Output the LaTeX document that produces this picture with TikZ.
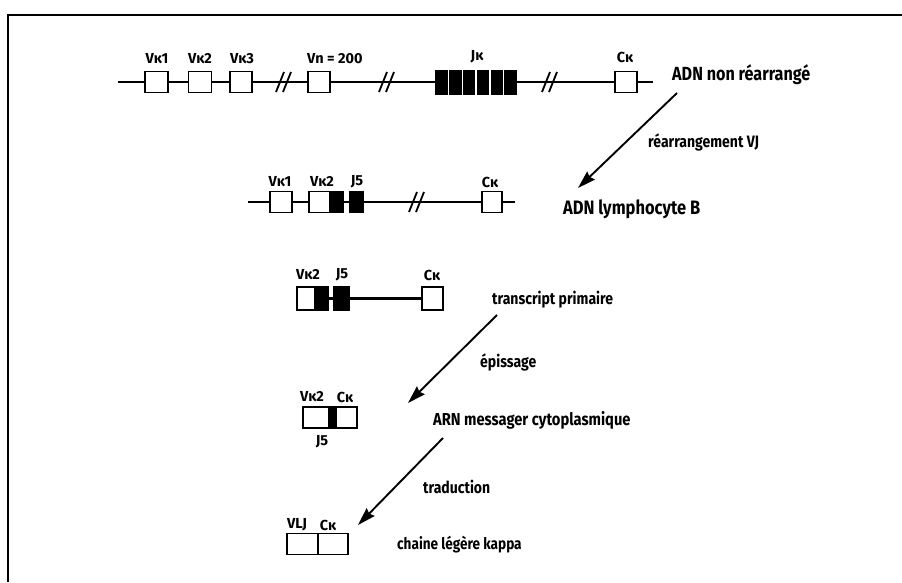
\documentclass[tikz,border=0pt]{standalone}
\usepackage{fontspec}
\setmainfont{Fira Sans}[FakeStretch=0.85]
\newfontfamily\lblfont{Fira Sans}
\usetikzlibrary{arrows.meta}
\tikzset{
  ln/.style={line width=2.2pt},
  wbox/.style={draw, line width=1.9pt, fill=white, minimum height=21pt, inner sep=0pt},
  bbox/.style={draw, line width=1.2pt, fill=black, minimum height=21pt, inner sep=0pt},
  jbox/.style={fill=black, minimum height=25pt, minimum width=12.4pt, inner sep=0pt},
  lab/.style={font=\lblfont\bfseries\fontsize{14.5}{15}\selectfont, inner sep=0pt},
  big/.style={font=\bfseries\fontsize{19}{19}\selectfont, anchor=west, inner sep=0pt},
  small/.style={font=\bfseries\fontsize{16.5}{16}\selectfont, anchor=west, inner sep=0pt},
  arr/.style={line width=1.9pt, -{Stealth[length=18pt,width=11pt,inset=2pt]}},
  brk/.style={line width=1.8pt}
}
\newcommand{\brkmark}[2]{%
  \draw[brk] (#1-10,#2+10) -- (#1-2,#2-10);
  \draw[brk] (#1-3,#2+10) -- (#1+5,#2-10);}
\begin{document}
\begin{tikzpicture}[x=1pt,y=-1pt]
\useasboundingbox (0,0) rectangle (902,582);
% frame
\draw[line width=2.4pt] (8,582) -- (8,15) -- (902,15);

% ---------- Row 1 : ADN non rearrange ----------
\coordinate (r1s) at (118,82);
\coordinate (r1e) at (653,82);
\node[wbox, minimum width=23pt] (a1) at (156.5,82) {};
\node[wbox, minimum width=23pt] (a2) at (200,82) {};
\node[wbox, minimum width=22pt] (a3) at (241,82) {};
\node[wbox, minimum width=22pt] (an) at (319,82) {};
\node[jbox] (j1) at (441.5,82) {};
\node[jbox] (j2) at (455.3,82) {};
\node[jbox] (j3) at (469.1,82) {};
\node[jbox] (j4) at (482.9,82) {};
\node[jbox] (j5) at (496.7,82) {};
\node[jbox] (j6) at (510.5,82) {};
\node[wbox, minimum width=22pt] (ac) at (626,82) {};
\draw[ln] (r1s) -- (a1.west);
\draw[ln] (a1.east) -- (a2.west);
\draw[ln] (a2.east) -- (a3.west);
\draw[ln] (a3.east) -- (an.west);
\draw[ln] (an.east) -- (j1.west);
\draw[ln] (j6.east) -- (ac.west);
\draw[ln] (ac.east) -- (r1e);
\brkmark{286}{82}
\brkmark{389}{82}
\brkmark{552}{82}
\node[lab] (la1) at (157,59) {Vκ1};
\node[lab] (la2) at (200,59) {Vκ2};
\node[lab] (la3) at (242,59) {Vκ3};
\node[lab, anchor=west] (lan) at (307,59) {Vn = 200};
\node[lab] (laj) at (477,57) {Jκ};
\node[lab] (lac) at (625,57) {Cκ};
\node[big] (t1) at (672,75) {ADN non réarrangé};

% arrow 1
\coordinate (p1s) at (677,93);
\coordinate (p1e) at (578,188);
\draw[arr] (p1s) -- (p1e);
\node[small] (t2) at (648,142) {réarrangement VJ};
\node[big, font=\bfseries\fontsize{19.4}{19}\selectfont] (t3) at (563,209) {ADN lymphocyte B};

% ---------- Row 2 : ADN lymphocyte B ----------
\coordinate (r2s) at (248,202);
\coordinate (r2e) at (515,202);
\node[wbox, minimum width=22pt] (b1) at (281,202) {};
\node[wbox, minimum width=21pt] (b2) at (319.5,202) {};
\node[bbox, minimum width=13pt] (b2j) at (336.5,202) {};
\node[bbox, minimum width=14pt] (b5) at (356.5,202) {};
\node[wbox, minimum width=20pt] (bc) at (492,202) {};
\draw[ln] (r2s) -- (b1.west);
\draw[ln] (b1.east) -- (b2.west);
\draw[ln] (b2j.east) -- (b5.west);
\draw[ln] (b5.east) -- (bc.west);
\draw[ln] (bc.east) -- (r2e);
\brkmark{419}{202}
\node[lab] (lb1) at (280,182) {Vκ1};
\node[lab] (lb2) at (322,182) {Vκ2};
\node[lab] (lb5) at (357,182) {J5};
\node[lab] (lbc) at (490,182) {Cκ};

% ---------- Row 3 : transcript primaire ----------
\node[wbox, minimum width=18pt, minimum height=23pt] (c2) at (306,298.5) {};
\node[bbox, minimum width=13pt, minimum height=23pt] (c2j) at (321.5,298.5) {};
\node[bbox, minimum width=15pt, minimum height=23pt] (c5) at (341.5,298.5) {};
\node[wbox, minimum width=21pt, minimum height=23pt] (cc) at (432.5,298.5) {};
\draw[ln] (c2j.east) -- (c5.west);
\draw[ln] (c5.east) -- (cc.west);
\node[lab] (lc2) at (308,275) {Vκ2};
\node[lab] (lc5) at (342,275) {J5};
\node[lab] (lcc) at (432,275) {Cκ};
\node[small] (t4) at (492,300) {transcript primaire};

% arrow 2
\coordinate (p2s) at (497,315);
\coordinate (p2e) at (408,403);
\draw[arr] (p2s) -- (p2e);
\node[small] (t5) at (480,362) {épissage};

% ---------- Row 4 : ARN messager ----------
\node[wbox, minimum width=26pt] (d2) at (316,417.5) {};
\node[bbox, minimum width=7pt] (dj) at (332.5,417.5) {};
\node[wbox, minimum width=21pt] (dc) at (346.5,417.5) {};
\node[lab] (ld2) at (312,397) {Vκ2};
\node[lab] (ldc) at (345,397) {Cκ};
\node[lab] (ld5) at (322,442) {J5};
\node[big, font=\bfseries\fontsize{17.3}{17}\selectfont] (t6) at (433,420) {ARN messager cytoplasmique};

% arrow 3
\coordinate (p3s) at (443,438);
\coordinate (p3e) at (358,525);
\draw[arr] (p3s) -- (p3e);
\node[small] (t7) at (423,487) {traduction};

% ---------- Row 5 : chaine legere ----------
\node[wbox, minimum width=31pt] (e1) at (302.5,544) {};
\node[wbox, minimum width=30pt] (e2) at (333,544) {};
\node[lab] (le1) at (297,525) {VLJ};
\node[lab] (le2) at (328,525) {Cκ};
\node[small, font=\bfseries\fontsize{16}{16}\selectfont] (t8) at (397,545) {chaine légère kappa};
\end{tikzpicture}
\end{document}
